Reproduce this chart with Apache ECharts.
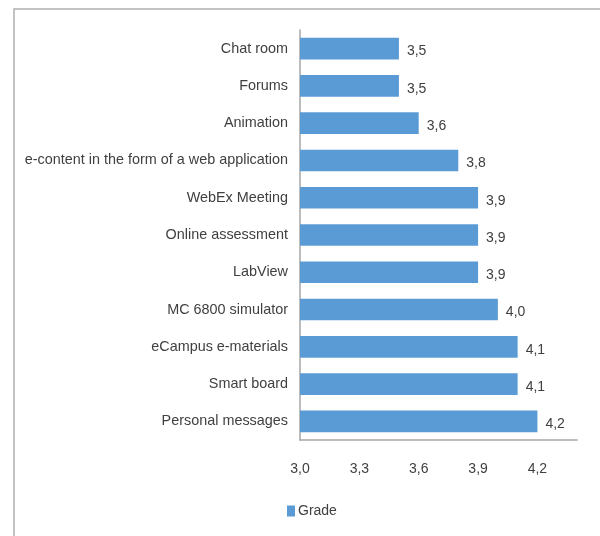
<!DOCTYPE html>
<html><head><meta charset="utf-8">
<script src="https://cdn.jsdelivr.net/npm/echarts@6/dist/echarts.min.js"></script>
<style>html,body{margin:0;padding:0;background:#fff}#c{width:600px;height:536px}</style>
</head><body><div id="c"></div>
<script>
var categories = ["Chat room","Forums","Animation","e-content in the form of a web application","WebEx Meeting","Online assessment","LabView","MC 6800 simulator","eCampus e-materials","Smart board","Personal messages"];
var grade = [3.5,3.5,3.6,3.8,3.9,3.9,3.9,4.0,4.1,4.1,4.2];
var seriesName = "Grade";
var FONT = "'Liberation Sans Narrow', 'Liberation Sans', sans-serif";
var chart = echarts.init(document.getElementById('c'), null, {renderer:'canvas'});
function fmt(v){ return v.toFixed(1).replace('.', ','); }
chart.setOption({
  animation:false,
  graphic:[{type:'rect', shape:{x:14, y:9, width:700, height:700}, style:{fill:'none', stroke:'#b0b0b0', lineWidth:1.5}, silent:true}],
  grid:{left:300, right:23, top:30, bottom:96, containLabel:false},
  legend:{data:[seriesName], left:282, bottom:13, itemWidth:8, itemHeight:11, itemGap:4, icon:'rect',
    textStyle:{fontFamily:FONT, fontSize:14, color:'#404040', padding:[0,0,0,-2]}},
  xAxis:{type:'value', min:3.0, max:4.4, interval:0.3,
    axisLine:{show:true, lineStyle:{color:'#a6a6a6', width:1.5}},
    axisTick:{show:false}, splitLine:{show:false},
    axisLabel:{showMaxLabel:false, margin:22, fontFamily:FONT, fontSize:14, color:'#404040', formatter:function(v){return fmt(v);}}},
  yAxis:{type:'category', data:categories, inverse:true,
    axisLine:{show:true, lineStyle:{color:'#a6a6a6', width:1.5}},
    axisTick:{show:false},
    axisLabel:{margin:12, fontFamily:FONT, fontSize:14.4, color:'#404040'}},
  series:[{name:seriesName, type:'bar', data:grade, barCategoryGap:'42%',
    itemStyle:{color:'#5b9bd5'},
    label:{show:true, position:'right', distance:8, offset:[0,3], fontFamily:FONT, fontSize:14, color:'#404040', formatter:function(p){return fmt(p.value);}}}]
});
</script></body></html>
